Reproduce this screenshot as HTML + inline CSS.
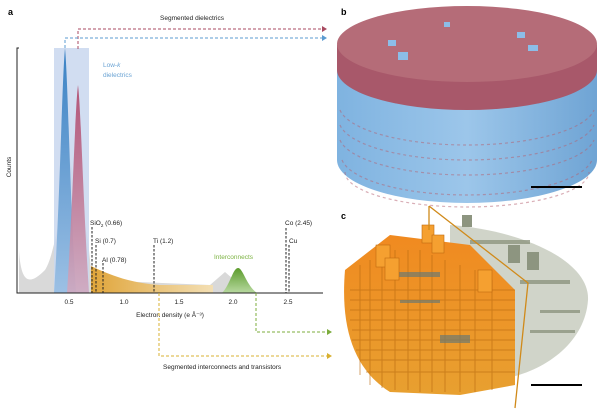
<!DOCTYPE html>
<html><head><meta charset="utf-8"><style>
html,body{margin:0;padding:0;background:#fff;}
svg{display:block;font-family:"Liberation Sans",sans-serif;}
</style></head><body>
<svg width="600" height="413" viewBox="0 0 600 413" xmlns="http://www.w3.org/2000/svg">
<defs>
<linearGradient id="gb" x1="0" y1="0" x2="0" y2="1"><stop offset="0" stop-color="#3b82c4"/><stop offset="1" stop-color="#9cc0e4"/></linearGradient>
<linearGradient id="gr" x1="0" y1="0" x2="0" y2="1"><stop offset="0" stop-color="#b0476a"/><stop offset="1" stop-color="#cfa8bf"/></linearGradient>
<linearGradient id="go" x1="0" y1="0" x2="1" y2="0"><stop offset="0" stop-color="#e0a53a"/><stop offset="1" stop-color="#f3dfb4"/></linearGradient>
<linearGradient id="gg" x1="0" y1="0" x2="0" y2="1"><stop offset="0" stop-color="#5c9c2c"/><stop offset="1" stop-color="#b8d9a0"/></linearGradient>
<linearGradient id="cyl" x1="0" y1="0" x2="1" y2="0"><stop offset="0" stop-color="#7fb3e0"/><stop offset="0.5" stop-color="#9cc6ea"/><stop offset="1" stop-color="#6fa4d4"/></linearGradient>
<linearGradient id="org" x1="0" y1="0" x2="0" y2="1"><stop offset="0" stop-color="#f08a20"/><stop offset="1" stop-color="#e8a030"/></linearGradient>
</defs>
<text x="8" y="15" font-size="9" font-weight="bold">a</text>
<path d="M19,293 L19,250 C21,285 30,285 45,270 C55,255 62,200 70,160 L88,240 L92,280 L210,285 L225,272 L240,285 L257,293 Z" fill="#d9d9d9"/>
<rect x="54" y="48" width="35" height="245" fill="#c9d7ee" opacity="0.85"/>
<path d="M91,293 L91,266 C110,275 130,283 160,285 L213,285 L213,293 Z" fill="url(#go)"/>
<path d="M54,293 C60,200 62,80 65,48 C68,80 70,200 76,293 Z" fill="url(#gb)"/>
<path d="M67,293 C73,200 75,110 78,85 C81,110 83,200 89,293 Z" fill="url(#gr)" opacity="0.9"/>
<path d="M222,293 C230,285 233,268 238,268 C243,268 246,285 257,293 Z" fill="url(#gg)"/>
<path d="M19,48 L17,48 L17,293 L323,293" fill="none" stroke="#222" stroke-width="1"/>
<g font-size="6.5" fill="#222" text-anchor="middle">
<text x="69" y="304">0.5</text><text x="124" y="304">1.0</text><text x="179" y="304">1.5</text><text x="233" y="304">2.0</text><text x="288" y="304">2.5</text>
<text x="170" y="317">Electron density (e Å⁻³)</text>
<text transform="translate(11,167) rotate(-90)">Counts</text>
</g>
<g stroke="#222" stroke-width="1" stroke-dasharray="2.5,1.5">
<line x1="92" y1="227" x2="92" y2="293"/><line x1="96" y1="245" x2="96" y2="293"/>
<line x1="103" y1="263" x2="103" y2="293"/><line x1="154" y1="245" x2="154" y2="293"/>
<line x1="286" y1="228" x2="286" y2="293"/><line x1="289" y1="245" x2="289" y2="293"/>
</g>
<g font-size="6.5" fill="#222">
<text x="90" y="225">SiO<tspan font-size="4.5" dy="2">2</tspan><tspan dy="-2"> (0.66)</tspan></text>
<text x="95" y="243">Si (0.7)</text><text x="102" y="262">Al (0.78)</text>
<text x="153" y="243">Ti (1.2)</text><text x="285" y="225">Co (2.45)</text><text x="289" y="243">Cu</text>
</g>
<text x="103" y="67" font-size="6.5" fill="#6aa3d4">Low-<tspan font-style="italic">k</tspan></text>
<text x="103" y="77" font-size="6.5" fill="#6aa3d4">dielectrics</text>
<text x="214" y="259" font-size="6.5" fill="#7cb342">Interconnects</text>
<g fill="none" stroke-width="1" stroke-dasharray="3,2">
<path d="M78,49 L78,29 L323,29" stroke="#a84a60"/>
<path d="M65,48 L65,38 L323,38" stroke="#5b9bd0"/>
<path d="M256,293 L256,332 L328,332" stroke="#7cac3c"/>
<path d="M159,293 L159,356 L328,356" stroke="#d8b030"/>
</g>
<path d="M322,26 L327,29 L322,32Z" fill="#a84a60"/><path d="M322,35 L327,38 L322,41Z" fill="#5b9bd0"/>
<path d="M327,329 L332,332 L327,335Z" fill="#7cac3c"/><path d="M327,353 L332,356 L327,359Z" fill="#d8b030"/>
<text x="192" y="20" font-size="6.5" text-anchor="middle" fill="#222">Segmented dielectrics</text>
<text x="163" y="369" font-size="6.5" fill="#222">Segmented interconnects and transistors</text>
<!-- panel b -->
<path d="M337,45 L337,160 A130,43 0 0 0 597,160 L597,45 Z" fill="url(#cyl)"/>
<g stroke="#b46070" stroke-width="1.2" opacity="0.5" stroke-dasharray="3,3">
<path d="M340,110 A128,40 0 0 0 594,110" fill="none"/>
<path d="M340,125 A128,40 0 0 0 594,125" fill="none"/>
<path d="M340,140 A128,40 0 0 0 594,140" fill="none"/>
<path d="M342,160 A126,40 0 0 0 592,160" fill="none"/>
<path d="M345,172 A122,35 0 0 0 589,172" fill="none"/>
</g>
<path d="M337,45 L337,70 A130,40 0 0 0 597,70 L597,45 Z" fill="#a8586a"/>
<ellipse cx="467" cy="44" rx="130" ry="38" fill="#b56c78"/>
<g fill="#8cbde8"><rect x="388" y="40" width="8" height="6"/><rect x="398" y="52" width="10" height="8"/><rect x="517" y="32" width="8" height="6"/><rect x="528" y="45" width="10" height="6"/><rect x="444" y="22" width="6" height="5"/></g>
<text x="341" y="15" font-size="9" font-weight="bold">b</text>
<line x1="531" y1="187" x2="582" y2="187" stroke="#000" stroke-width="2"/>
<!-- panel c -->
<text x="341" y="219" font-size="9" font-weight="bold">c</text>
<path d="M450,225 C520,230 590,260 588,300 C585,345 540,375 495,380 L450,330 Z" fill="#a9b09c" opacity="0.55"/>
<g fill="#8d9580" opacity="0.8"><rect x="470" y="240" width="60" height="4"/><rect x="520" y="280" width="50" height="4"/><rect x="540" y="310" width="40" height="3"/><rect x="530" y="330" width="45" height="3"/></g>
<path d="M345,270 L390,235 L470,245 L515,290 L515,385 L460,395 L390,392 C355,370 340,330 345,270 Z" fill="url(#org)"/>
<g stroke="#b86a10" stroke-width="1" opacity="0.6">
<line x1="350" y1="290" x2="515" y2="290"/><line x1="350" y1="300" x2="515" y2="300"/><line x1="350" y1="310" x2="515" y2="310"/><line x1="350" y1="320" x2="515" y2="320"/><line x1="352" y1="330" x2="515" y2="330"/><line x1="352" y1="340" x2="515" y2="340"/><line x1="356" y1="350" x2="515" y2="350"/><line x1="360" y1="360" x2="515" y2="360"/><line x1="366" y1="372" x2="515" y2="372"/>
<line x1="360" y1="265" x2="360" y2="375"/><line x1="370" y1="260" x2="370" y2="385"/><line x1="382" y1="255" x2="382" y2="388"/><line x1="395" y1="250" x2="395" y2="390"/><line x1="408" y1="250" x2="408" y2="390"/><line x1="420" y1="250" x2="420" y2="392"/><line x1="432" y1="255" x2="432" y2="392"/><line x1="445" y1="260" x2="445" y2="392"/><line x1="460" y1="265" x2="460" y2="392"/><line x1="475" y1="270" x2="475" y2="392"/><line x1="492" y1="280" x2="492" y2="390"/>
</g>
<g fill="#6e7a70" opacity="0.7"><rect x="395" y="272" width="45" height="5"/><rect x="440" y="335" width="30" height="8"/><rect x="400" y="300" width="40" height="3"/></g>
<g fill="#f5a030" stroke="#c06a10" stroke-width="0.6">
<rect x="376" y="245" width="14" height="22"/><rect x="385" y="258" width="14" height="22"/><rect x="422" y="225" width="12" height="18"/><rect x="432" y="235" width="12" height="18"/><rect x="478" y="270" width="14" height="22"/>
</g>
<g fill="#8d9580"><rect x="462" y="215" width="10" height="12"/><rect x="508" y="245" width="12" height="18"/><rect x="527" y="252" width="12" height="18"/></g>
<path d="M429,206 L528,283 L515,408 M429,206 L429,230" fill="none" stroke="#d08a1a" stroke-width="1.3"/>
<line x1="531" y1="385" x2="582" y2="385" stroke="#000" stroke-width="2"/>
</svg>
</body></html>
